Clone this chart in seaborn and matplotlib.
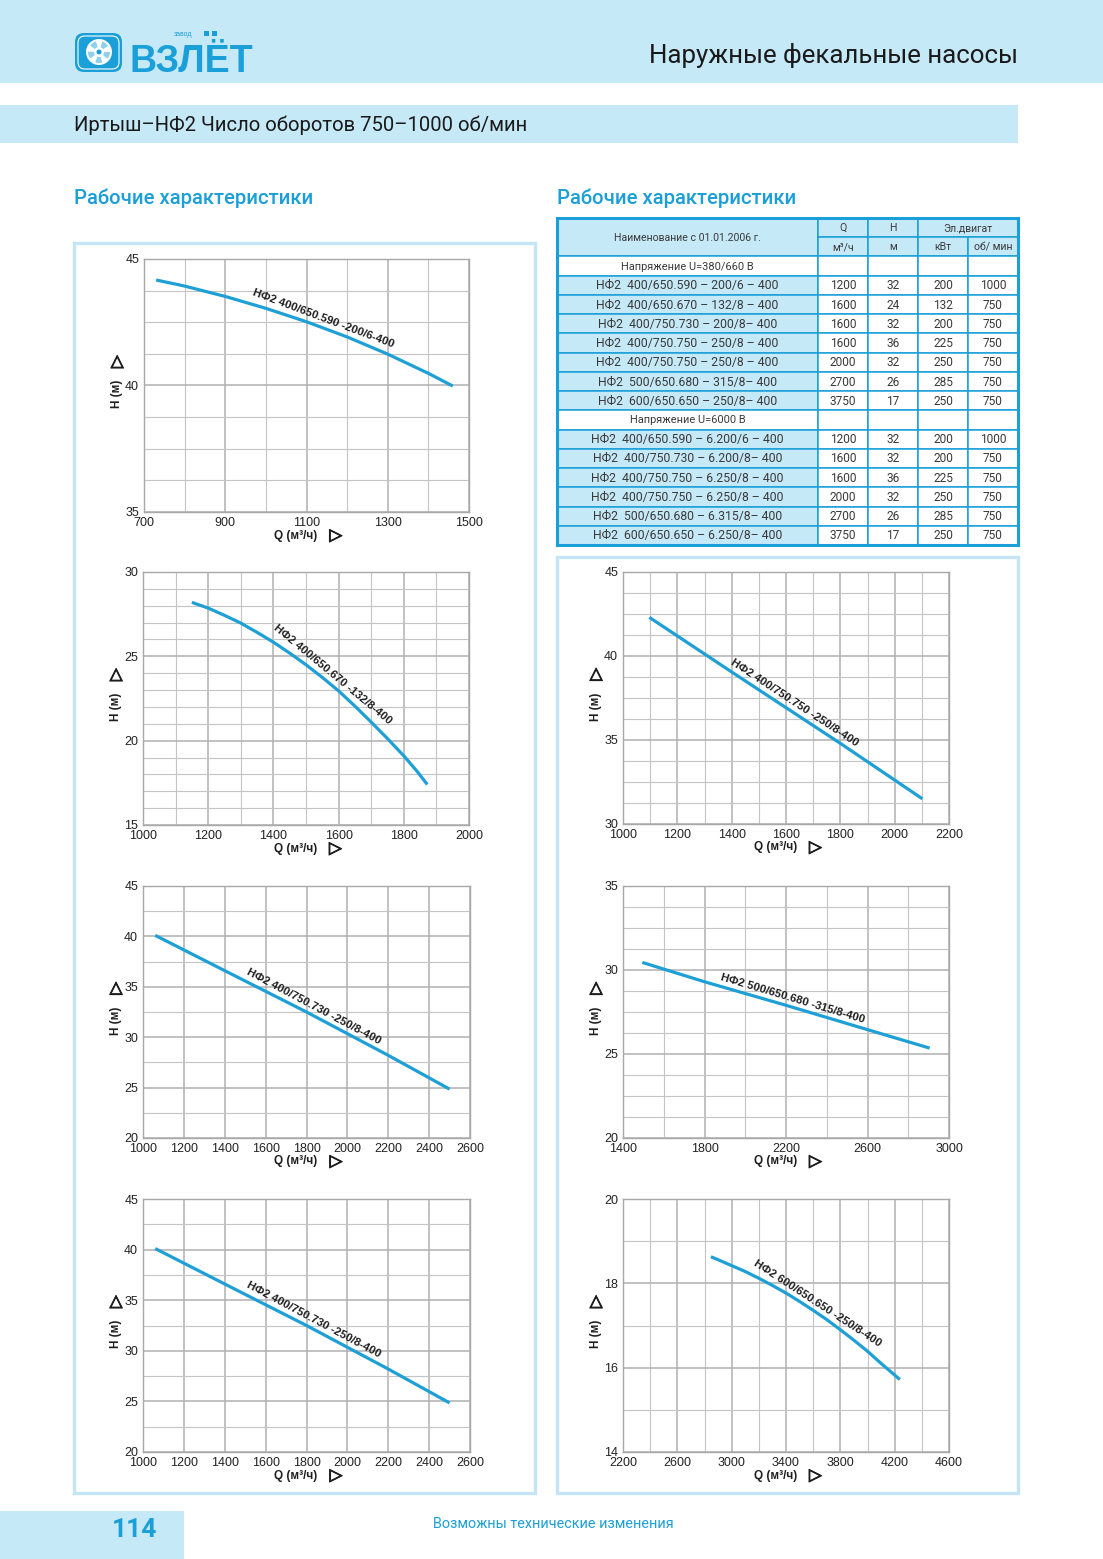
import numpy as np
import matplotlib
matplotlib.use("Agg")
import matplotlib.pyplot as plt
import matplotlib.patheffects as pe
import seaborn as sns
from matplotlib.patches import Rectangle, FancyBboxPatch, Circle, Wedge

W, H = 1103, 1559
BLUE = "#1a9fd8"
PALE = "#c6e9f8"
CURVE = "#1ea0d7"

# --- pump curves (Q in m3/h, H in m) ---
q_590 = [730, 800, 900, 1000, 1100, 1200, 1300, 1400, 1460]
h_590 = [44.17, 43.93, 43.52, 43.05, 42.52, 41.92, 41.24, 40.48, 39.98]

q_670 = [1150, 1200, 1250, 1300, 1350, 1400, 1450, 1500, 1550, 1600, 1650, 1700,
         1750, 1800, 1840, 1872]
h_670 = [28.2, 27.86, 27.43, 26.97, 26.42, 25.84, 25.19, 24.5, 23.75, 22.95, 22.05,
         21.1, 20.12, 19.1, 18.2, 17.4]

q_730 = [1060, 1400, 1800, 2200, 2500]
h_730 = [40.1, 36.6, 32.5, 28.2, 24.85]

q_750 = [1097, 1400, 1800, 2102]
h_750 = [42.3, 39.05, 34.8, 31.5]

q_680 = [1495, 1800, 2200, 2600, 2905]
h_680 = [30.45, 29.3, 27.9, 26.45, 25.35]

q_650 = [2847, 2900, 3000, 3100, 3200, 3300, 3400, 3500, 3600, 3700, 3800, 3900,
         4000, 4100, 4238]
h_650 = [18.63, 18.56, 18.42, 18.28, 18.12, 17.95, 17.77, 17.57, 17.36, 17.14,
         16.9, 16.65, 16.39, 16.1, 15.72]

# --- table ---
names_380 = ["НФ2  400/650.590 – 200/6 – 400", "НФ2  400/650.670 – 132/8 – 400",
             "НФ2  400/750.730 – 200/8– 400", "НФ2  400/750.750 – 250/8 – 400",
             "НФ2  400/750.750 – 250/8 – 400", "НФ2  500/650.680 – 315/8– 400",
             "НФ2  600/650.650 – 250/8– 400"]
q_380 = [1200, 1600, 1600, 1600, 2000, 2700, 3750]
hd_380 = [32, 24, 32, 36, 32, 26, 17]
kw_380 = [200, 132, 200, 225, 250, 285, 250]
rpm_380 = [1000, 750, 750, 750, 750, 750, 750]

names_6000 = ["НФ2  400/650.590 – 6.200/6 – 400", "НФ2  400/750.730 – 6.200/8– 400",
              "НФ2  400/750.750 – 6.250/8 – 400", "НФ2  400/750.750 – 6.250/8 – 400",
              "НФ2  500/650.680 – 6.315/8– 400", "НФ2  600/650.650 – 6.250/8– 400"]
q_6000 = [1200, 1600, 1600, 2000, 2700, 3750]
hd_6000 = [32, 32, 36, 32, 26, 17]
kw_6000 = [200, 200, 225, 250, 285, 250]
rpm_6000 = [1000, 750, 750, 750, 750, 750]

sns.set_theme(style="white")
plt.rcParams["font.family"] = ["Liberation Sans", "DejaVu Sans"]
ROBOTO = ["Roboto", "DejaVu Sans"]

fig = plt.figure(figsize=(W / 100, H / 100), dpi=100)
bg = fig.add_axes([0, 0, 1, 1])
bg.set_xlim(0, W)
bg.set_ylim(H, 0)
bg.axis("off")


def px_box(l, t, r, b):
    return [l / W, 1 - b / H, (r - l) / W, (b - t) / H]


# page decoration
bg.add_patch(Rectangle((0, 0), W, 83, fc=PALE, ec="none"))
bg.add_patch(Rectangle((0, 105), 1018, 38, fc=PALE, ec="none"))
bg.add_patch(Rectangle((0, 1511), 184, 48, fc=PALE, ec="none"))
bg.add_patch(Rectangle((74, 243), 461, 1250, fc="white", ec="#c3e5f5", lw=2.4))
bg.add_patch(Rectangle((557, 557), 461, 936, fc="white", ec="#c3e5f5", lw=2.4))

# logo
bg.add_patch(FancyBboxPatch((75, 33), 47, 39, boxstyle="round,pad=0,rounding_size=9",
                            fc=BLUE, ec="none"))
bg.add_patch(FancyBboxPatch((78, 36), 41, 33, boxstyle="round,pad=0,rounding_size=7",
                            fc="none", ec="white", lw=0.8))
bg.add_patch(Circle((99, 52), 13, fc="white", ec="none"))
for a in range(0, 360, 72):
    bg.add_patch(Wedge((99, 52), 11, a, a + 38, width=6, fc="#8fd0ee", ec="none"))
bg.add_patch(Circle((99, 52), 2.5, fc=BLUE, ec="none"))
bg.text(129, 72, "ВЗЛЁТ", fontsize=27, fontweight="bold", color=BLUE,
        family=["Liberation Sans", "DejaVu Sans"], ha="left", va="baseline")
bg.text(174, 34, "завод", fontsize=5, color=BLUE, ha="left", va="center")
bg.add_patch(Rectangle((204, 31), 5, 5, fc=BLUE, ec="none"))
bg.add_patch(Rectangle((212, 31), 5, 5, fc=BLUE, ec="none"))

bg.text(1018, 55, "Наружные фекальные насосы", fontsize=18.6, color="#1a1a1a",
        family=ROBOTO, ha="right", va="center")
bg.text(74, 125, "Иртыш–НФ2 Число оборотов 750–1000 об/мин", fontsize=14.6,
        color="#1a1a1a", family=ROBOTO, ha="left", va="center")
bg.text(74, 198, "Рабочие характеристики", fontsize=14.6, color=BLUE, family=ROBOTO,
        fontweight="medium", ha="left", va="center")
bg.text(557, 198, "Рабочие характеристики", fontsize=14.6, color=BLUE, family=ROBOTO,
        fontweight="medium", ha="left", va="center")
bg.text(135, 1530, "114", fontsize=19, fontweight="bold", color=BLUE, family=ROBOTO,
        ha="center", va="center")
bg.text(553, 1524, "Возможны технические изменения", fontsize=10.4, color=BLUE,
        family=ROBOTO, ha="center", va="center")

# table
col_x = [557, 818, 868, 918, 968, 1018]
tab_t, tab_b = 218, 545
rh = (tab_b - tab_t) / 17
TXT = "#3a3a3a"


def cell(c0, c1, r0, r1, text, fc, size=8.2):
    x0, x1 = col_x[c0], col_x[c1]
    y0, y1 = tab_t + r0 * rh, tab_t + r1 * rh
    bg.add_patch(Rectangle((x0, y0), x1 - x0, y1 - y0, fc=fc, ec=BLUE, lw=1.1))
    if text != "":
        bg.text((x0 + x1) / 2, (y0 + y1) / 2 + 0.5, text, fontsize=size, color=TXT,
                family=ROBOTO, ha="center", va="center")


cell(0, 1, 0, 2, "Наименование с 01.01.2006 г.", PALE, 7.6)
cell(1, 2, 0, 1, "Q", PALE, 7.6)
cell(2, 3, 0, 1, "H", PALE, 7.6)
cell(3, 5, 0, 1, "Эл.двигат", PALE, 7.6)
for c, t in enumerate(["м³/ч", "м", "кВт", "об/ мин"]):
    cell(c + 1, c + 2, 1, 2, t, PALE, 7.6)

row = 2
for title, names, qs, hs, kws, rpms in [
        ("Напряжение U=380/660 В", names_380, q_380, hd_380, kw_380, rpm_380),
        ("Напряжение U=6000 В", names_6000, q_6000, hd_6000, kw_6000, rpm_6000)]:
    cell(0, 1, row, row + 1, title, "white", 7.9)
    for c in range(1, 5):
        cell(c, c + 1, row, row + 1, "", "white")
    row += 1
    for n, qv, hv, kv, rv in zip(names, qs, hs, kws, rpms):
        cell(0, 1, row, row + 1, n, PALE, 8.8)
        for c, v in enumerate([qv, hv, kv, rv]):
            cell(c + 1, c + 2, row, row + 1, str(v), "white", 8.6)
        row += 1
bg.add_patch(Rectangle((col_x[0], tab_t), col_x[-1] - col_x[0], tab_b - tab_t,
                       fc="none", ec=BLUE, lw=2.2))

ARROW_FX = [pe.withStroke(linewidth=0.7, foreground="#1e1e1e")]


def curve_chart(box, q, h, label, q_lab, xlim, xmaj, xgrid, ylim, ymaj, ygrid):
    ax = fig.add_axes(px_box(*box))
    ax.set_xlim(xlim)
    ax.set_ylim(ylim)
    ax.set_xticks(np.arange(xlim[0], xlim[1] + 1, xmaj))
    ax.set_xticks(np.arange(xlim[0], xlim[1] + 1, xgrid), minor=True)
    ax.set_yticks(np.arange(ylim[0], ylim[1] + 0.01, ymaj))
    ax.set_yticks(np.arange(ylim[0], ylim[1] + 0.01, ygrid), minor=True)
    ax.set_axisbelow(True)
    ax.grid(which="minor", color="#c4c4c4", lw=0.8)
    ax.grid(which="major", color="#b0b0b0", lw=1.1)
    for s in ax.spines.values():
        s.set_color("#a8a8a8")
        s.set_linewidth(1.0)
    ax.tick_params(which="major", length=2, width=0.8, color="#999999", pad=1.5,
                   labelsize=9, labelcolor="#222222")
    ax.tick_params(which="minor", length=0)

    sns.lineplot(x=q, y=h, ax=ax, color=CURVE, lw=2.3, solid_capstyle="butt")
    ax.set_xlabel("")
    ax.set_ylabel("")

    lab_kw = dict(transform=ax.transAxes, fontweight="bold", color="#1e1e1e")
    ax.text(-0.083, 0.466, "H (м)", rotation=90, ha="center", va="center",
            fontsize=8.5, **lab_kw)
    ax.text(-0.083, 0.594, "▷", rotation=90, ha="center", va="center",
            fontsize=12, path_effects=ARROW_FX, **lab_kw)
    ax.text(0.468, -0.093, "Q (м³/ч)", ha="center", va="center", fontsize=8.5,
            **lab_kw)
    ax.text(0.59, -0.093, "▷", ha="center", va="center", fontsize=12,
            path_effects=ARROW_FX, **lab_kw)

    qa, ha_ = np.asarray(q, float), np.asarray(h, float)
    h_mid = np.interp(q_lab, qa, ha_)
    i = int(np.searchsorted(qa, q_lab))
    ang = np.degrees(np.arctan2(ha_[i] - ha_[i - 1], qa[i] - qa[i - 1]))
    scr = ax.transData.transform_angles(np.array([ang]), np.array([[q_lab, h_mid]]))[0]
    t = np.radians(scr)
    d = 2.6
    ax.annotate(label, (q_lab, h_mid), xytext=(-np.sin(t) * d, np.cos(t) * d),
                textcoords="offset points", rotation=scr, rotation_mode="anchor",
                ha="center", va="bottom", fontsize=8.2, fontweight="bold",
                color="#1e1e1e")
    return ax


curve_chart((144, 259, 469, 512), q_590, h_590, "НФ2 400/650.590 -200/6-400", 1133,
            (700, 1500), 200, 100, (35, 45), 5, 1.25)
curve_chart((143, 572, 469, 825), q_670, h_670, "НФ2 400/650.670 -132/8-400", 1564,
            (1000, 2000), 200, 100, (15, 30), 5, 1)
curve_chart((143, 886, 470, 1138), q_730, h_730, "НФ2 400/750.730 -250/8-400", 1817,
            (1000, 2600), 200, 200, (20, 45), 5, 2.5)
curve_chart((143, 1199, 470, 1452), q_730, h_730, "НФ2 400/750.730 -250/8-400", 1817,
            (1000, 2600), 200, 200, (20, 45), 5, 2.5)
curve_chart((623, 572, 949, 824), q_750, h_750, "НФ2 400/750.750 -250/8-400", 1615,
            (1000, 2200), 200, 100, (30, 45), 5, 1.25)
curve_chart((623, 886, 949, 1138), q_680, h_680, "НФ2 500/650.680 -315/8-400", 2220,
            (1400, 3000), 400, 200, (20, 35), 5, 1.25)
curve_chart((623, 1199, 949, 1452), q_650, h_650, "НФ2 600/650.650 -250/8-400", 3599,
            (2200, 4600), 400, 200, (14, 20), 2, 1)

fig.savefig("out.png", dpi=100)
